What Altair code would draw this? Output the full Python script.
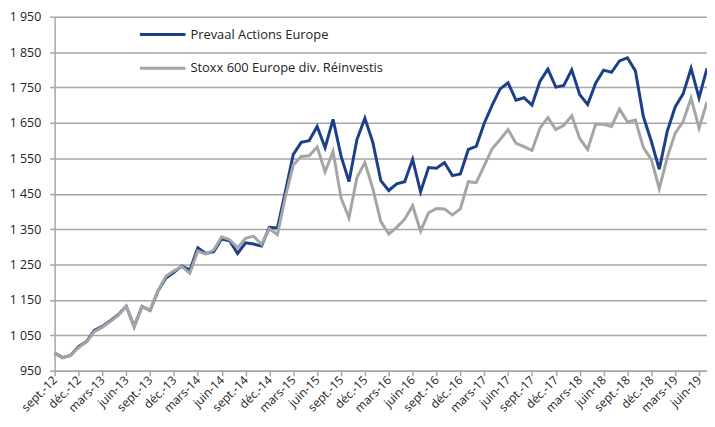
import json
import altair as alt
import pandas as pd

series_names = ["Prevaal Actions Europe", "Stoxx 600 Europe div. Réinvestis"]
series_colors = ["#1c3f8a", "#a5a5a5"]

tick_labels = ["sept.-12", "déc.-12", "mars-13", "juin-13", "sept.-13", "déc.-13",
               "mars-14", "juin-14", "sept.-14", "déc.-14", "mars-15", "juin-15",
               "sept.-15", "déc.-15", "mars-16", "juin-16", "sept.-16", "déc.-16",
               "mars-17", "juin-17", "sept.-17", "déc.-17", "mars-18", "juin-18",
               "sept.-18", "déc.-18", "mars-19", "juin-19"]

# monthly values, sept-12 .. juil-19 (83 months)
prevaal = [1000, 987, 993, 1018, 1032, 1064, 1075, 1091, 1108, 1132,
           1075, 1132, 1120, 1175, 1212, 1228, 1246, 1234, 1297, 1281,
           1286, 1322, 1317, 1281, 1311, 1308, 1302, 1355, 1353, 1455,
           1561, 1595, 1600, 1640, 1580, 1660, 1557, 1484, 1603, 1663,
           1595, 1487, 1459, 1478, 1484, 1547, 1455, 1524, 1522, 1538,
           1501, 1506, 1575, 1584, 1649, 1700, 1746, 1763, 1714, 1721,
           1700, 1767, 1802, 1751, 1756, 1800, 1730, 1702, 1762, 1799,
           1793, 1825, 1834, 1797, 1668, 1598, 1519, 1626, 1695, 1732,
           1804, 1721, 1804]
stoxx = [1000, 986, 993, 1015, 1031, 1060, 1073, 1089, 1106, 1132,
         1073, 1131, 1121, 1176, 1217, 1232, 1244, 1225, 1288, 1279,
         1291, 1328, 1320, 1297, 1324, 1330, 1307, 1351, 1334, 1440,
         1531, 1555, 1557, 1582, 1512, 1570, 1438, 1382, 1496, 1538,
         1464, 1371, 1336, 1355, 1378, 1416, 1344, 1396, 1408, 1407,
         1390, 1407, 1484, 1481, 1529, 1577, 1603, 1631, 1592, 1583,
         1572, 1635, 1665, 1631, 1643, 1670, 1606, 1575, 1646, 1646,
         1640, 1689, 1653, 1658, 1580, 1547, 1464, 1552, 1621, 1654,
         1720, 1635, 1709]

y_ticks = list(range(950, 1951, 100))
x_ticks = list(range(0, 82, 3))

FONT = "Open Sans"

df = pd.DataFrame({
    "m": list(range(len(prevaal))) * 2,
    "v": prevaal + stoxx,
    "s": [series_names[0]] * len(prevaal) + [series_names[1]] * len(stoxx),
})

label_expr = json.dumps(tick_labels, ensure_ascii=False) + "[round(datum.value/3)]"

x_enc = alt.X("m:Q", scale=alt.Scale(domain=[0, 82], nice=False, zero=False),
              axis=alt.Axis(values=x_ticks, labelExpr=label_expr, title=None, grid=False,
                            labelAngle=315, labelAlign="right", labelBaseline="middle",
                            labelPadding=2, labelFontSize=12, labelFont=FONT,
                            labelColor="#222222", domainColor="#a6a6a6", domainWidth=1.5,
                            tickColor="#a6a6a6", tickWidth=1.5, tickSize=5,
                            labelOverlap=False, labelFlush=False))
y_enc = alt.Y("v:Q", scale=alt.Scale(domain=[950, 1950], nice=False, zero=False),
              axis=alt.Axis(values=y_ticks, title=None,
                            labelExpr="replace(format(datum.value, ',d'), ',', ' ')",
                            grid=True, gridColor="#a6a6a6", gridWidth=1.5,
                            domainColor="#a6a6a6", domainWidth=1.5,
                            tickColor="#a6a6a6", tickWidth=1.5, tickSize=5,
                            labelFontSize=12.5, labelFont=FONT, labelColor="#222222",
                            labelPadding=9))

base = alt.Chart(df)
layers = []
for name, col in zip(series_names, series_colors):
    layers.append(
        base.transform_filter(alt.datum.s == name)
        .mark_line(strokeWidth=3, color=col, strokeJoin="miter")
        .encode(x=x_enc, y=y_enc)
    )

for i, (name, col) in enumerate(zip(series_names, series_colors)):
    ly = 18 + 34 * i
    ldf = pd.DataFrame({"s": [name]})
    layers.append(
        alt.Chart(ldf).mark_rule(strokeWidth=3, color=col)
        .encode(x=alt.value(86), x2=alt.value(132), y=alt.value(ly))
    )
    layers.append(
        alt.Chart(ldf).mark_text(align="left", baseline="middle", font=FONT,
                                 fontSize=13, color="#222222")
        .encode(x=alt.value(137), y=alt.value(ly), text="s:N")
    )

chart = alt.layer(*layers).properties(
    width=658, height=357,
    autosize=alt.AutoSizeParams(type="none"),
    padding={"left": 47, "top": 7, "right": 0, "bottom": 52},
    background="white",
).configure_view(stroke=None)

chart.save("out.html", embed_options={"renderer": "svg", "actions": False})
